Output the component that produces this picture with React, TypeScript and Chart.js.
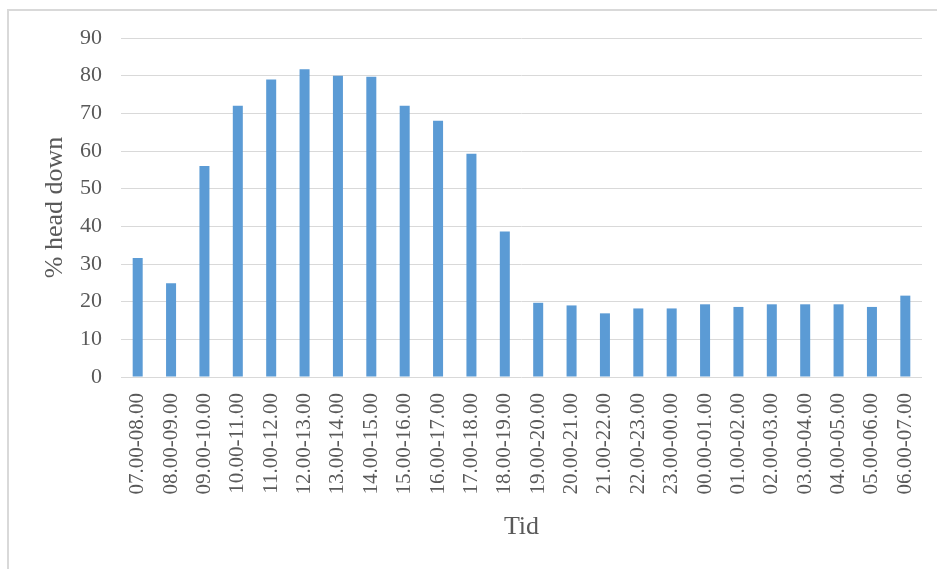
import React, { useEffect, useRef } from "react";
import { Chart, registerables } from "chart.js";

Chart.register(...registerables);

const categories: string[] = [
  "07.00-08.00", "08.00-09.00", "09.00-10.00", "10.00-11.00", "11.00-12.00", "12.00-13.00",
  "13.00-14.00", "14.00-15.00", "15.00-16.00", "16.00-17.00", "17.00-18.00", "18.00-19.00",
  "19.00-20.00", "20.00-21.00", "21.00-22.00", "22.00-23.00", "23.00-00.00", "00.00-01.00",
  "01.00-02.00", "02.00-03.00", "03.00-04.00", "04.00-05.00", "05.00-06.00", "06.00-07.00",
];

const headDown: number[] = [
  31.6, 24.9, 56.0, 72.0, 79.0, 81.7, 80.0, 79.7, 72.0, 68.0, 59.3, 38.6,
  19.7, 19.0, 16.9, 18.2, 18.2, 19.3, 18.6, 19.3, 19.3, 19.3, 18.6, 21.6,
];

const yTitle = "% head down";
const xTitle = "Tid";
const yMin = 0;
const yMax = 90;
const yStep = 10;

const FONT = "'Liberation Serif', 'Times New Roman', serif";
const TEXT = "#595959";
const GRID = "#d9d9d9";

export default function App() {
  const ref = useRef<HTMLCanvasElement | null>(null);

  useEffect(() => {
    if (!ref.current) return;
    const chart = new Chart(ref.current, {
      type: "bar",
      data: {
        labels: categories,
        datasets: [
          {
            label: yTitle,
            data: headDown,
            backgroundColor: "#5b9bd5",
            borderWidth: 0,
            barPercentage: 0.3,
            categoryPercentage: 1,
          },
        ],
      },
      options: {
        animation: false,
        responsive: false,
        devicePixelRatio: 1,
        layout: { padding: { left: 0, right: 15, top: 38, bottom: 0 } },
        plugins: {
          legend: { display: false },
          tooltip: { enabled: false },
          title: { display: false },
        },
        scales: {
          x: {
            grid: { display: false, drawTicks: false },
            border: { display: false },
            ticks: {
              color: TEXT,
              font: { family: FONT, size: 21 },
              minRotation: 90,
              maxRotation: 90,
              autoSkip: false,
              padding: 16,
            },
            title: {
              display: true,
              text: xTitle,
              color: TEXT,
              font: { family: FONT, size: 26 },
              padding: { top: 0, bottom: 26 },
            },
            afterFit: (scale: any) => {
              scale.height = 192;
              scale.paddingLeft = 0;
              scale.paddingRight = 0;
            },
          },
          y: {
            min: yMin,
            max: yMax,
            grid: { color: GRID, lineWidth: 1, drawTicks: false },
            border: { display: false },
            ticks: {
              stepSize: yStep,
              color: TEXT,
              font: { family: FONT, size: 22 },
              padding: 19,
            },
            title: {
              display: true,
              text: yTitle,
              color: TEXT,
              font: { family: FONT, size: 26 },
              padding: { top: 40, bottom: 0 },
            },
            afterFit: (scale: any) => {
              scale.width = 121;
            },
          },
        },
      },
    });
    return () => chart.destroy();
  }, []);

  return (
    <div
      style={{
        position: "fixed",
        left: 0,
        top: 0,
        width: 937,
        height: 569,
        background: "#ffffff",
        overflow: "hidden",
      }}
    >
      <div
        style={{
          position: "absolute",
          left: 7,
          top: 9,
          width: 1200,
          height: 1200,
          borderTop: "2px solid #d9d9d9",
          borderLeft: "2px solid #d9d9d9",
        }}
      />
      <canvas
        ref={ref}
        width={937}
        height={569}
        style={{ position: "absolute", left: 0, top: 0, width: 937, height: 569 }}
      />
    </div>
  );
}
